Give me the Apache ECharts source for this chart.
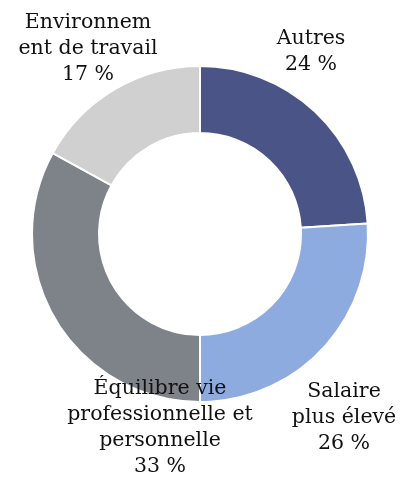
<!DOCTYPE html>
<html><head><meta charset="utf-8">
<script src="https://cdn.jsdelivr.net/npm/echarts@6/dist/echarts.min.js"></script>
<style>html,body{margin:0;padding:0;background:#fff}#c{width:402px;height:479px}</style>
</head><body><div id="c"></div>
<script>
const categories = ["Autres", "Salaire plus élevé", "Équilibre vie professionnelle et personnelle", "Environnement de travail"];
const values = [24, 26, 33, 17];
const labelLines = [["Autres"], ["Salaire", "plus élevé"], ["Équilibre vie", "professionnelle et", "personnelle"], ["Environnem", "ent de travail"]];
const colors = ["#4a5487", "#8eabe0", "#7e8289", "#d0d0d0"];
const labelPos = [[311, 52], [344, 418], [160, 428], [88, 49]];

const chart = echarts.init(document.getElementById('c'), null, {renderer: 'canvas'});
chart.setOption({
  animation: false,
  series: [{
    type: 'pie',
    center: [200, 234],
    radius: [101, 168],
    startAngle: 90,
    clockwise: true,
    avoidLabelOverlap: false,
    itemStyle: {borderColor: '#fff', borderWidth: 2},
    label: {
      show: true,
      position: 'inside',
      overflow: 'none',
      fontFamily: 'DejaVu Serif',
      fontSize: 20.5,
      lineHeight: 26,
      color: '#111',
      align: 'center',
      formatter: p => labelLines[p.dataIndex].join('\n') + '\n' + p.value + ' %'
    },
    labelLine: {show: false},
    labelLayout: p => ({x: labelPos[p.dataIndex][0], y: labelPos[p.dataIndex][1], align: 'center', verticalAlign: 'middle', hideOverlap: false}),
    data: categories.map((c, i) => ({name: c, value: values[i], itemStyle: {color: colors[i]}}))
  }]
});
</script></body></html>
